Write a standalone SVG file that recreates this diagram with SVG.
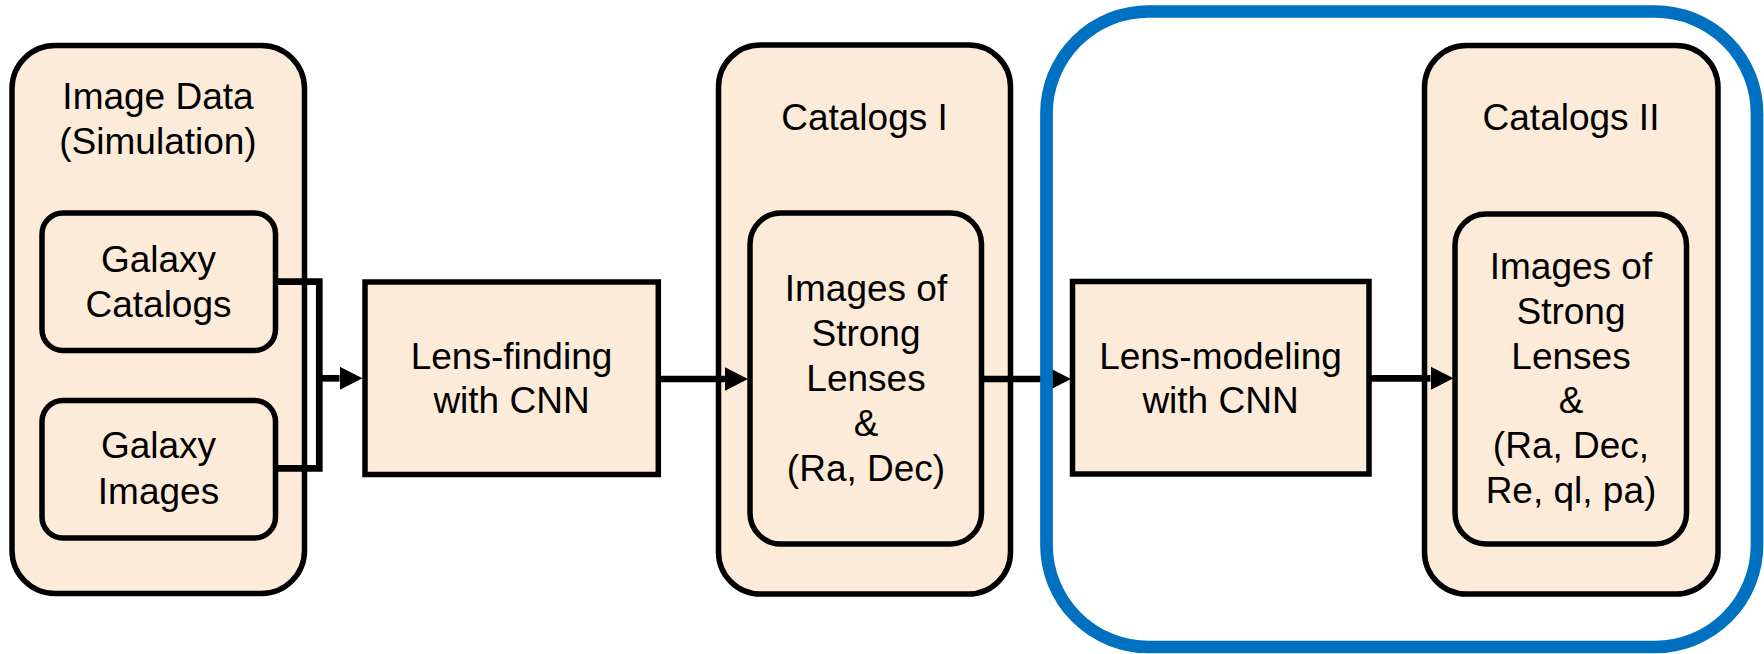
<svg xmlns="http://www.w3.org/2000/svg" width="1764" height="654" viewBox="0 0 1764 654">
<defs>
<style>
.box{fill:#FDEBD9;stroke:#000;stroke-width:5.5}
.t{font-family:"Liberation Sans",Arial,sans-serif;font-size:37px;fill:#000;text-anchor:middle}
.c{fill:none;stroke:#000;stroke-width:6.7;stroke-linejoin:miter}
.frame{fill:none;stroke:#0070C0;stroke-width:12.7}
</style>
<marker id="ah" markerUnits="userSpaceOnUse" markerWidth="24" markerHeight="24" refX="0" refY="11.7" orient="auto" viewBox="0 0 24 24">
<path d="M0,0 L23,11.7 L0,23.4 Z" fill="#000"/>
</marker>
</defs>
<rect width="1764" height="654" fill="#fff"/>

<g id="image-data">
<rect class="box" x="12" y="45.5" width="292.5" height="548" rx="43"/>
<text class="t" x="158" y="109">Image Data</text>
<text class="t" x="158" y="154">(Simulation)</text>
</g>
<g id="galaxy-catalogs">
<rect class="box" x="42" y="213" width="233.5" height="137.5" rx="21"/>
<text class="t" x="158.5" y="272">Galaxy</text>
<text class="t" x="158.5" y="317">Catalogs</text>
</g>
<g id="galaxy-images">
<rect class="box" x="42" y="400.5" width="233.5" height="137.5" rx="21"/>
<text class="t" x="158.5" y="458">Galaxy</text>
<text class="t" x="158.5" y="504">Images</text>
</g>
<g id="lens-finding">
<rect class="box" x="365" y="282" width="293.3" height="192.5"/>
<text class="t" x="511.5" y="369">Lens-finding</text>
<text class="t" x="511.5" y="413">with CNN</text>
</g>
<g id="catalogs-1">
<rect class="box" x="718.5" y="45" width="292" height="549" rx="42"/>
<text class="t" x="864.5" y="130">Catalogs I</text>
</g>
<g id="strong-lenses-1">
<rect class="box" x="750" y="213" width="231.5" height="331" rx="31"/>
<text class="t" x="866" y="300.5">Images of</text>
<text class="t" x="866" y="345.5">Strong</text>
<text class="t" x="866" y="390.5">Lenses</text>
<text class="t" x="866" y="435.5">&amp;</text>
<text class="t" x="866" y="480.5">(Ra, Dec)</text>
</g>
<g id="lens-modeling">
<rect class="box" x="1072.5" y="281.5" width="296.5" height="192.5"/>
<text class="t" x="1220.5" y="369">Lens-modeling</text>
<text class="t" x="1220.5" y="413">with CNN</text>
</g>
<g id="catalogs-2">
<rect class="box" x="1424.5" y="45.5" width="293.5" height="548.5" rx="42"/>
<text class="t" x="1571" y="130">Catalogs II</text>
</g>
<g id="strong-lenses-2">
<rect class="box" x="1455" y="214" width="231.5" height="330" rx="31"/>
<text class="t" x="1571" y="279">Images of</text>
<text class="t" x="1571" y="324">Strong</text>
<text class="t" x="1571" y="368.5">Lenses</text>
<text class="t" x="1571" y="413">&amp;</text>
<text class="t" x="1571" y="458">(Ra, Dec,</text>
<text class="t" x="1571" y="503">Re, ql, pa)</text>
</g>

<g id="connectors">
<path class="c" d="M275,281.7 H319.3 V468.3 H275"/>
<path class="c" d="M319.3,378.3 H339.5" marker-end="url(#ah)"/>
<path class="c" d="M658,379 H725" marker-end="url(#ah)"/>
<path class="c" d="M984,379 H1048" marker-end="url(#ah)"/>
<path class="c" d="M1371,378.3 H1430.5" marker-end="url(#ah)"/>
</g>

<g id="model-frame">
<rect class="frame" x="1046.5" y="11.5" width="710.5" height="635.5" rx="102"/>
</g>
</svg>
